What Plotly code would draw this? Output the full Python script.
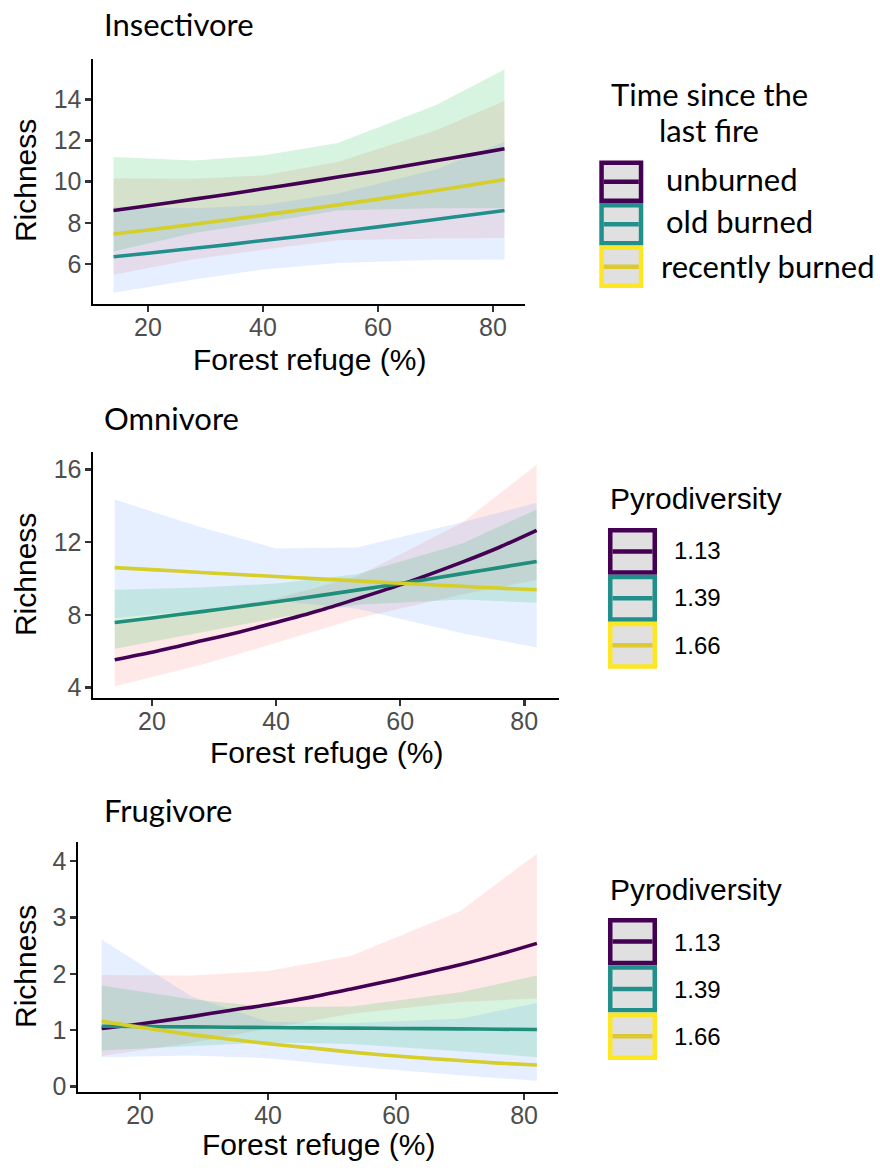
import plotly.graph_objects as go

# ---------------- data ----------------
x_line = [14, 20, 28, 34, 40, 47, 53, 60, 70, 76, 82]
x_band = [14, 28, 40, 53, 70, 82]

# Insectivore (Time since the last fire)
ins_unburned = [8.6, 8.83, 9.15, 9.39, 9.65, 9.95, 10.22, 10.53, 11.01, 11.3, 11.6]
ins_old = [6.35, 6.52, 6.76, 6.94, 7.14, 7.36, 7.56, 7.8, 8.16, 8.38, 8.6]
ins_recent = [7.45, 7.65, 7.93, 8.15, 8.37, 8.64, 8.87, 9.15, 9.57, 9.83, 10.1]
ins_red_lo = [5.47, 6.23, 6.69, 7.15, 7.23, 7.26]
ins_red_hi = [10.15, 10.14, 10.3, 10.95, 12.48, 13.92]
ins_green_lo = [6.6, 7.5, 8.0, 8.6, 8.7, 8.7]
ins_green_hi = [11.2, 11.03, 11.27, 11.88, 13.71, 15.45]
ins_blue_lo = [4.6, 5.24, 5.73, 6.05, 6.2, 6.22]
ins_blue_hi = [8.77, 8.7, 8.85, 9.42, 10.58, 11.93]

# Omnivore (Pyrodiversity)
omn_113 = [5.53, 5.94, 6.57, 7.05, 7.58, 8.24, 8.88, 9.65, 10.9, 11.72, 12.65]
omn_139 = [7.58, 7.83, 8.18, 8.45, 8.72, 9.06, 9.36, 9.72, 10.27, 10.6, 10.94]
omn_166 = [10.6, 10.49, 10.33, 10.22, 10.11, 9.98, 9.87, 9.74, 9.57, 9.47, 9.38]
omn_red_lo = [4.07, 5.25, 6.46, 7.8, 9.12, 9.92]
omn_red_hi = [7.52, 8.2, 8.9, 10.11, 13.07, 16.26]
omn_green_lo = [6.13, 7.04, 7.81, 8.56, 8.84, 8.67]
omn_green_hi = [9.38, 9.5, 9.73, 10.24, 11.93, 13.8]
omn_blue_lo = [7.83, 8.27, 8.77, 8.33, 6.99, 6.21]
omn_blue_hi = [14.35, 12.8, 11.65, 11.7, 13.1, 14.16]

# Frugivore (Pyrodiversity)
fru_113 = [1.03, 1.11, 1.24, 1.35, 1.45, 1.59, 1.73, 1.9, 2.16, 2.34, 2.54]
fru_139 = [1.07, 1.065, 1.057, 1.052, 1.047, 1.04, 1.035, 1.03, 1.022, 1.016, 1.01]
fru_166 = [1.16, 1.05, 0.92, 0.84, 0.76, 0.68, 0.61, 0.54, 0.46, 0.415, 0.38]
fru_red_lo = [0.54, 0.77, 1.03, 1.29, 1.5, 1.56]
fru_red_hi = [1.98, 1.97, 2.05, 2.32, 3.11, 4.13]
fru_green_lo = [0.64, 0.72, 0.78, 0.754, 0.625, 0.52]
fru_green_hi = [1.79, 1.55, 1.41, 1.42, 1.67, 1.97]
fru_blue_lo = [0.52, 0.55, 0.5, 0.36, 0.2, 0.1]
fru_blue_hi = [2.61, 1.6, 1.15, 1.12, 1.2, 1.48]

panel_titles = ["Insectivore", "Omnivore", "Frugivore"]
x_ticks = [20, 40, 60, 80]
y_ticks = [[6, 8, 10, 12, 14], [4, 8, 12, 16], [0, 1, 2, 3, 4]]
legend1_title = ["Time since the", "last fire"]
legend1_labels = ["unburned", "old burned", "recently burned"]
legend2_title = "Pyrodiversity"
legend2_labels = ["1.13", "1.39", "1.66"]

# ---------------- style ----------------
W, H = 880, 1172
PURPLE, TEAL, YELLOW = "#440154", "#21908C", "#FDE725"
TEAL2 = "#1F8E7A"
YELLOW_LINE = "#D5CE2B"
RED_F = "rgba(248,118,109,0.16)"
GREEN_F = "rgba(0,186,56,0.16)"
BLUE_F = "rgba(97,156,255,0.16)"
TICK_FONT = dict(family="Liberation Sans, Arial, sans-serif", size=25, color="#4D4D4D")
LEG_FONT = dict(family="Liberation Sans, Arial, sans-serif", size=24, color="black")
AX_FONT = dict(family="Liberation Sans, Arial, sans-serif", size=30, color="black")
CAL_FONT = "Lato, 'Open Sans', sans-serif"

# panel geometry in pixels: (x0, x1, y0, y1), axis ranges
panels = [
    dict(px=(93, 525, 59, 306), xr=[10.43, 85.57], yr=[4.07, 15.98], title_y=24, xt_y=362),
    dict(px=(93, 559, 456, 703), xr=[10.5, 85.6], yr=[3.45, 16.93], title_y=421, xt_y=758),
    dict(px=(78, 558, 849, 1100), xr=[10.3, 85.3], yr=[-0.09, 4.33], title_y=816, xt_y=1153),
]

data = [
    dict(bands=[(ins_red_lo, ins_red_hi, RED_F), (ins_green_lo, ins_green_hi, GREEN_F),
                (ins_blue_lo, ins_blue_hi, BLUE_F)],
         lines=[(ins_unburned, PURPLE), (ins_old, TEAL), (ins_recent, YELLOW_LINE)]),
    dict(bands=[(omn_red_lo, omn_red_hi, RED_F), (omn_green_lo, omn_green_hi, GREEN_F),
                (omn_blue_lo, omn_blue_hi, BLUE_F)],
         lines=[(omn_113, PURPLE), (omn_139, TEAL2), (omn_166, YELLOW_LINE)]),
    dict(bands=[(fru_red_lo, fru_red_hi, RED_F), (fru_green_lo, fru_green_hi, GREEN_F),
                (fru_blue_lo, fru_blue_hi, BLUE_F)],
         lines=[(fru_113, PURPLE), (fru_139, TEAL2), (fru_166, YELLOW_LINE)]),
]

fig = go.Figure()
annotations = []
shapes = []
layout_axes = {}

for i, (p, d) in enumerate(zip(panels, data)):
    n = "" if i == 0 else str(i + 1)
    xa, ya = "x" + n, "y" + n
    x0, x1, y0, y1 = p["px"]
    for lo, hi, col in d["bands"]:
        fig.add_trace(go.Scatter(x=x_band, y=lo, mode="lines", line=dict(width=0, color=col),
                                 hoverinfo="skip", showlegend=False, xaxis=xa, yaxis=ya))
        fig.add_trace(go.Scatter(x=x_band, y=hi, mode="lines", line=dict(width=0, color=col),
                                 fill="tonexty", fillcolor=col, hoverinfo="skip",
                                 showlegend=False, xaxis=xa, yaxis=ya))
    for ys, col in d["lines"]:
        fig.add_trace(go.Scatter(x=x_line, y=ys, mode="lines",
                                 line=dict(color=col, width=3.6, shape="spline", smoothing=0.7),
                                 showlegend=False, xaxis=xa, yaxis=ya))
    common = dict(showline=True, linecolor="black", linewidth=2.5, ticks="outside", ticklen=6,
                  tickwidth=2.5, tickcolor="#333333", tickfont=TICK_FONT, showgrid=False,
                  zeroline=False, fixedrange=True)
    layout_axes["xaxis" + n] = dict(domain=[x0 / W, x1 / W], range=p["xr"], anchor=ya,
                                    tickvals=x_ticks, ticklabelstandoff=-6, **common)
    layout_axes["yaxis" + n] = dict(domain=[1 - y1 / H, 1 - y0 / H], range=p["yr"], anchor=xa,
                                    tickvals=y_ticks[i], ticklabelstandoff=-2, **common)
    # panel title
    annotations.append(dict(text=panel_titles[i], x=102 / W, y=1 - p["title_y"] / H,
                            xref="paper", yref="paper", xanchor="left", yanchor="middle",
                            showarrow=False, font=dict(family=CAL_FONT, size=31, color="black")))
    # axis titles
    annotations.append(dict(text="Richness", x=25 / W, y=1 - (y0 + y1) / 2 / H, textangle=-90,
                            xref="paper", yref="paper", xanchor="center", yanchor="middle",
                            showarrow=False, font=AX_FONT))
    annotations.append(dict(text="Forest refuge (%)", x=(x0 + x1) / 2 / W, y=1 - p["xt_y"] / H,
                            xref="paper", yref="paper", xanchor="center", yanchor="middle",
                            showarrow=False, font=AX_FONT))

# ---------------- legends ----------------
KEY_FILL = "#E0E0E0"
outline_cols = [PURPLE, TEAL, YELLOW]
mid_cols = [PURPLE, TEAL, "#DCC830"]


def key_box(kx0, kx1, ky0, ky1, oc, mc, lw=4.5):
    h = lw / 2
    shapes.append(dict(type="rect", xref="paper", yref="paper",
                       x0=(kx0 + h) / W, x1=(kx1 - h) / W, y0=1 - (ky1 - h) / H, y1=1 - (ky0 + h) / H,
                       line=dict(color=oc, width=lw), fillcolor=KEY_FILL, layer="above"))
    ym = (ky0 + ky1) / 2
    shapes.append(dict(type="line", xref="paper", yref="paper",
                       x0=(kx0 + lw) / W, x1=(kx1 - lw) / W, y0=1 - ym / H, y1=1 - ym / H,
                       line=dict(color=mc, width=lw), layer="above"))


# legend 1
for t, ty in zip(legend1_title, [95, 131]):
    annotations.append(dict(text=t, x=709 / W, y=1 - ty / H, xref="paper", yref="paper",
                            xanchor="center", yanchor="middle", showarrow=False,
                            font=dict(family=CAL_FONT, size=31, color="black")))
k_h = 42.8
for j, lab in enumerate(legend1_labels):
    ky0 = 161.7 + j * k_h
    key_box(599.3, 643.3, ky0, ky0 + k_h, outline_cols[j], mid_cols[j])
    lx = [664, 664, 659][j]
    annotations.append(dict(text=lab, x=lx / W, y=1 - [180, 223, 268][j] / H, xref="paper",
                            yref="paper", xanchor="left", yanchor="middle", showarrow=False,
                            font=dict(family=CAL_FONT, size=31, color="black")))

# legends 2 and 3
for title_y, k0, kh, lab_ys in [(502, 532, 47.3, [555, 602, 650]), (896, 925, 47.7, [950, 997, 1045])]:
    annotations.append(dict(text=legend2_title, x=608 / W, y=1 - title_y / H, xref="paper",
                            yref="paper", xanchor="left", yanchor="middle", showarrow=False,
                            font=AX_FONT))
    for j, lab in enumerate(legend2_labels):
        ky0 = k0 + j * kh
        key_box(608, 657, ky0, ky0 + kh, outline_cols[j], mid_cols[j])
        annotations.append(dict(text=lab, x=672 / W, y=1 - lab_ys[j] / H, xref="paper",
                                yref="paper", xanchor="left", yanchor="middle", showarrow=False,
                                font=LEG_FONT))

fig.update_layout(width=W, height=H, autosize=False, margin=dict(l=0, r=0, t=0, b=0),
                  plot_bgcolor="white", paper_bgcolor="white", showlegend=False,
                  annotations=annotations, shapes=shapes, **layout_axes)
fig.write_html("out.html", config={"displayModeBar": False, "staticPlot": True},
               post_script="document.body.style.margin='0';document.body.style.padding='0';")
